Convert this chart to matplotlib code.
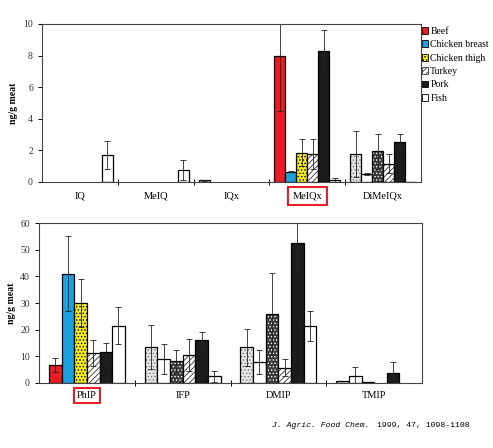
import numpy as np
import matplotlib.pyplot as plt
from matplotlib.patches import Patch

plt.rcParams['font.family'] = 'Liberation Serif'
plt.rcParams['hatch.linewidth'] = 0.6

meats = ['Beef', 'Chicken breast', 'Chicken thigh', 'Turkey', 'Pork', 'Fish']

# upper panel (ng/g meat)
groups_top = ['IQ', 'MeIQ', 'IQx', 'MeIQx', 'DiMeIQx']
beef_top = [0, 0, 0.1, 8.0, 1.75]
beef_top_err = [0, 0, 0.05, 3.5, 1.45]
breast_top = [0, 0, 0, 0.65, 0.5]
breast_top_err = [0, 0, 0, 0.05, 0.05]
thigh_top = [0, 0, 0, 1.85, 1.95]
thigh_top_err = [0, 0, 0, 0.85, 1.1]
turkey_top = [0, 0, 0, 1.8, 1.15]
turkey_top_err = [0, 0, 0, 0.95, 0.6]
pork_top = [0, 0, 0, 8.3, 2.55]
pork_top_err = [0, 0, 0, 1.3, 0.5]
fish_top = [1.7, 0.75, 0, 0.12, 0.03]
fish_top_err = [0.9, 0.65, 0, 0.13, 0]

# lower panel
groups_bot = ['PhIP', 'IFP', 'DMIP', 'TMIP']
beef_bot = [6.8, 13.6, 13.4, 0.7]
beef_bot_err = [2.5, 8.3, 7.0, 0]
breast_bot = [41, 9.0, 7.9, 2.6]
breast_bot_err = [14, 5.6, 4.6, 3.5]
thigh_bot = [30, 8.2, 25.9, 0.4]
thigh_bot_err = [9, 4.3, 15.5, 0]
turkey_bot = [11.2, 10.5, 5.75, 0]
turkey_bot_err = [5, 6, 3.2, 0]
pork_bot = [11.7, 16, 52.5, 3.6]
pork_bot_err = [3.3, 3, 9, 4.3]
fish_bot = [21.5, 2.5, 21.4, 0]
fish_bot_err = [7, 2, 5.5, 0]

# the coloured groups and the black & white ones
colour_style = {
    'Beef': ('#ec1c24', None, None),
    'Chicken breast': ('#1ea0dc', None, None),
    'Chicken thigh': ('#f4ec1a', '.....', 'black'),
    'Turkey': ('white', '//////', '#333333'),
    'Pork': ('#1c1c1c', None, None),
    'Fish': ('white', None, None),
}
bw_style = dict(colour_style)
bw_style['Beef'] = ('#e6e6e6', '.....', '#777777')
bw_style['Chicken breast'] = ('white', None, None)
bw_style['Chicken thigh'] = ('#3a3a3a', '.....', 'white')


def draw(ax, groups, values, errs, colour_idx, width):
    n = len(meats)
    x = np.arange(len(groups)) + 0.5
    for j, m in enumerate(meats):
        pos = x + (j - (n - 1) / 2) * width
        for i in range(len(groups)):
            st = colour_style if i == colour_idx else bw_style
            face, hatch, hc = st[m]
            v = values[j][i]
            if v <= 0:
                continue
            ax.bar(pos[i], v, width, color=face, edgecolor=hc if hatch else face,
                   hatch=hatch, linewidth=0)
            ax.bar(pos[i], v, width, fill=False, edgecolor='black', linewidth=0.9)
            e = errs[j][i]
            if e > 0:
                ax.errorbar(pos[i], v, yerr=e, color='#222222', elinewidth=0.6,
                            capsize=2, capthick=0.6)
    ax.set_xlim(0, len(groups))
    ax.set_xticks(np.arange(1, len(groups)))
    ax.set_xticklabels([])
    ax.set_xticks(x, minor=True)
    ax.set_xticklabels(groups, minor=True)
    ax.tick_params(axis='x', which='major', direction='inout', length=5, width=0.7)
    ax.tick_params(axis='x', which='minor', length=0, labelsize=7.5)
    ax.tick_params(axis='y', direction='out', length=3, width=0.7, labelsize=7,
                   labelcolor='#333333')
    for s in ax.spines.values():
        s.set_linewidth(0.8)
        s.set_color('#444444')
    ax.set_ylabel('ng/g meat', fontweight='bold', fontsize=7)
    lab = ax.get_xticklabels(minor=True)[colour_idx]
    return lab


fig = plt.figure(figsize=(4.93, 4.48), dpi=100)

ax1 = fig.add_axes([0.0852, 0.5938, 0.769, 0.3527])
lab = draw(ax1,
           groups_top,
           [beef_top, breast_top, thigh_top, turkey_top, pork_top, fish_top],
           [beef_top_err, breast_top_err, thigh_top_err, turkey_top_err,
            pork_top_err, fish_top_err],
           3, 0.145)
ax1.set_ylim(0, 10)
ax1.set_yticks([0, 2, 4, 6, 8, 10])
ax1.tick_params(axis='x', which='minor', pad=7)
ax1.yaxis.set_label_coords(-0.063, 0.5)
lab.set_bbox(dict(boxstyle='square,pad=0.45', fc='none', ec='#e8202a', lw=1.5))

ax2 = fig.add_axes([0.0791, 0.1451, 0.777, 0.357])
lab = draw(ax2,
           groups_bot,
           [beef_bot, breast_bot, thigh_bot, turkey_bot, pork_bot, fish_bot],
           [beef_bot_err, breast_bot_err, thigh_bot_err, turkey_bot_err,
            pork_bot_err, fish_bot_err],
           0, 0.132)
ax2.set_ylim(0, 60)
ax2.set_yticks([0, 10, 20, 30, 40, 50, 60])
ax2.tick_params(axis='x', which='minor', pad=6)
ax2.yaxis.set_label_coords(-0.06, 0.5)
lab.set_bbox(dict(boxstyle='square,pad=0.3', fc='none', ec='#e8202a', lw=1.5))

# legend
handles = []
for m in meats:
    face, hatch, hc = colour_style[m]
    handles.append(Patch(facecolor=face, edgecolor='black' if hatch is None else hc,
                         hatch=hatch, linewidth=0.6, label=m))
fig.legend(handles=handles, loc='upper left', bbox_to_anchor=(0.855, 0.94),
           frameon=False, fontsize=7, handlelength=0.7, handleheight=0.7,
           handletextpad=0.2, labelspacing=0.45, borderaxespad=0, borderpad=0)

# citation
fig.text(272 / 493, 1 - 425 / 448, 'J. Agric. Food Chem.', family='Liberation Mono',
         style='italic', fontsize=5.9, va='center', ha='left')
fig.text(377 / 493, 1 - 425 / 448, '1999, 47, 1098-1108', family='Liberation Mono',
         fontsize=5.9, va='center', ha='left')

fig.savefig('out.png', dpi=100)
